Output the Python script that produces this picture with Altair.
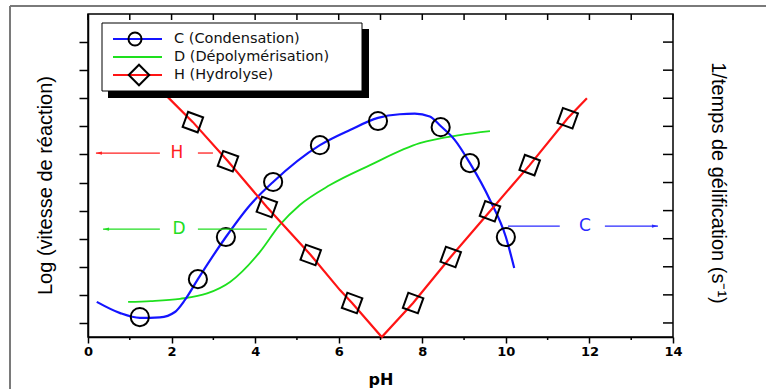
import altair as alt
import pandas as pd

# ---------------- data ----------------
# C (Condensation): smooth blue curve + circle markers
c_line_ph = [0.21, 0.77, 1.24, 1.72, 2.08, 2.32, 2.63, 3.30, 3.88, 4.43, 5.55, 6.27, 6.94, 7.46, 7.82, 8.18, 8.44, 8.78, 9.14, 9.62, 10.0, 10.2]
c_line_y = [1.25, 0.85, 0.68, 0.70, 0.89, 1.32, 2.06, 3.56, 4.70, 5.52, 6.83, 7.37, 7.80, 7.93, 7.95, 7.85, 7.51, 7.01, 6.19, 4.88, 3.56, 2.46]
c_mark_ph = [1.24, 2.63, 3.30, 4.43, 5.55, 6.94, 8.44, 9.14, 10.0]
c_mark_y = [0.71, 2.06, 3.56, 5.52, 6.83, 7.69, 7.47, 6.19, 3.56]

# D (Depolymerisation): green curve, no markers
d_line_ph = [0.96, 1.5, 2.2, 2.85, 3.40, 4.11, 4.59, 5.07, 5.79, 6.75, 7.94, 8.90, 9.62]
d_line_y = [1.25, 1.28, 1.36, 1.55, 1.96, 3.02, 3.99, 4.70, 5.41, 6.12, 6.90, 7.19, 7.33]

# H (Hydrolyse): red V-shaped line + diamond markers
h_line_ph = [1.5, 1.91, 2.51, 3.35, 4.28, 5.33, 6.03, 6.32, 7.03, 7.78, 8.68, 9.62, 10.57, 11.48, 11.94]
h_line_y = [9.25, 8.54, 7.65, 6.26, 4.63, 2.92, 1.67, 1.21, 0.0, 1.21, 2.85, 4.48, 6.12, 7.79, 8.50]
h_mark_ph = [2.51, 3.35, 4.28, 5.33, 6.32, 7.78, 8.68, 9.62, 10.57, 11.48]
h_mark_y = [7.65, 6.26, 4.63, 2.92, 1.21, 1.21, 2.85, 4.48, 6.12, 7.79]

# annotations (letter + arrow)
ann_text = ["H", "D", "C"]
ann_ph = [2.13, 2.18, 11.89]
ann_y = [6.55, 3.84, 3.95]
ann_color = ["#ff2020", "#22dd22", "#2a2aff"]
seg_x1 = [0.19, 2.63, 0.36, 2.63, 10.05, 12.37]
seg_x2 = [1.72, 2.99, 1.72, 4.28, 11.29, 13.64]
seg_y = [6.55, 6.55, 3.84, 3.84, 3.95, 3.95]
seg_color = ["#ff2020", "#ff2020", "#22dd22", "#22dd22", "#2a2aff", "#2a2aff"]
head_ph = [0.19, 0.36, 13.64]
head_y = [6.55, 3.84, 3.95]
head_dir = ["left", "left", "right"]
head_color = ["#ff2020", "#22dd22", "#2a2aff"]

x_ticks_major = [0, 2, 4, 6, 8, 10, 12, 14]
x_ticks_all = list(range(0, 15))
x_ticks_minor = [1, 3, 5, 7, 9, 11, 13]
y_ticks = [0.5, 1.5, 2.5, 3.5, 4.5, 5.5, 6.5, 7.5, 8.5, 9.5, 10.5]

legend_labels = ["C (Condensation)", "D (Dépolymérisation)", "H (Hydrolyse)"]
x_title = "pH"
y_title_left = "Log (vitesse de réaction)"
y_title_right = "1/temps de gélification (s⁻¹)"

# ---------------- chart ----------------
W, H = 585, 323
BLUE, GREEN, RED = "#1414ff", "#1ee01e", "#ff1414"

xs = alt.Scale(domain=[0, 14], nice=False, zero=False)
ys = alt.Scale(domain=[0, 11.5], nice=False, zero=False)
xaxis = alt.Axis(values=x_ticks_major, tickSize=6, tickColor="black", tickWidth=1.5,
                 domainColor="black", domainWidth=1.5, grid=False, labelFlush=False,
                 labelFont="DejaVu Sans", labelFontWeight="bold", labelFontSize=13,
                 labelColor="black", labelPadding=2,
                 title=x_title, titleFont="DejaVu Sans", titleFontWeight="bold",
                 titleFontSize=16, titleColor="black", titleY=42, titleBaseline="middle")
yaxis = alt.Axis(values=y_ticks, labels=False, tickSize=9, tickColor="black", tickWidth=1.5,
                 domainColor="black", domainWidth=1.5, grid=False,
                 title=y_title_left, titleFont="Liberation Sans", titleFontSize=20,
                 titleFontWeight="normal", titleColor="black", titleX=-43, titleY=171,
                 titleAngle=270, titleBaseline="middle")
X = alt.X("ph:Q", scale=xs, axis=xaxis)
Y = alt.Y("v:Q", scale=ys, axis=yaxis)

c_line = pd.DataFrame({"ph": c_line_ph, "v": c_line_y})
c_mark = pd.DataFrame({"ph": c_mark_ph, "v": c_mark_y})
d_line = pd.DataFrame({"ph": d_line_ph, "v": d_line_y})
h_line = pd.DataFrame({"ph": h_line_ph, "v": h_line_y})
h_mark = pd.DataFrame({"ph": h_mark_ph, "v": h_mark_y})
ann = pd.DataFrame({"ph": ann_ph, "v": ann_y, "t": ann_text, "c": ann_color})
segs = pd.DataFrame({"ph": seg_x1, "ph2": seg_x2, "v": seg_y, "c": seg_color})
heads = pd.DataFrame({"ph": head_ph, "v": head_y, "c": head_color,
                      "s": ["M0,0L2,-0.55L2,0.55Z" if d == "left" else "M0,0L-2,-0.55L-2,0.55Z" for d in head_dir]})
one = pd.DataFrame({"k": [0]})

layers = []
# outer grey frame of the figure (left and top edges)
layers.append(alt.Chart(one).mark_rule(color="#7a7a7a", strokeWidth=2).encode(
    x=alt.value(-78), y=alt.value(-8), y2=alt.value(H + 60)))
layers.append(alt.Chart(one).mark_rule(color="#7a7a7a", strokeWidth=2).encode(
    x=alt.value(-78), x2=alt.value(W + 100), y=alt.value(-8)))

layers.append(alt.Chart(d_line).mark_line(color=GREEN, strokeWidth=1.8, interpolate="monotone").encode(x=X, y=Y))
layers.append(alt.Chart(c_line).mark_line(color=BLUE, strokeWidth=2.2, interpolate="monotone").encode(x=X, y=Y))
layers.append(alt.Chart(h_line).mark_line(color=RED, strokeWidth=2.2).encode(x=X, y=Y))
layers.append(alt.Chart(c_mark).mark_point(shape="circle", size=330, filled=False, color="black",
                                            strokeWidth=2, opacity=1).encode(x=X, y=Y))
layers.append(alt.Chart(h_mark).mark_point(shape="square", size=256, angle=20, filled=False, color="black",
                                            strokeWidth=2, opacity=1).encode(x=X, y=Y))

# frame ticks (top inward, right inward, bottom minor)
top_t = pd.DataFrame({"ph": x_ticks_all})
layers.append(alt.Chart(top_t).mark_rule(color="black", strokeWidth=1.5).encode(
    x=X, y=alt.value(0), y2=alt.value(6)))
min_t = pd.DataFrame({"ph": x_ticks_minor})
layers.append(alt.Chart(min_t).mark_rule(color="black", strokeWidth=1.5).encode(
    x=X, y=alt.value(H), y2=alt.value(H + 3)))
right_t = pd.DataFrame({"v": y_ticks})
layers.append(alt.Chart(right_t).mark_rule(color="black", strokeWidth=1.5).encode(
    y=Y, x=alt.value(W - 10), x2=alt.value(W)))

# annotations
layers.append(alt.Chart(segs).mark_rule(strokeWidth=1.3).encode(
    x=X, x2="ph2:Q", y=Y, color=alt.Color("c:N", scale=None)))
layers.append(alt.Chart(heads).mark_point(size=36, filled=True, opacity=1).encode(
    x=X, y=Y, color=alt.Color("c:N", scale=None), shape=alt.Shape("s:N", scale=None)))
layers.append(alt.Chart(ann).mark_text(font="DejaVu Sans", fontSize=17, baseline="middle", align="center").encode(
    x=X, y=Y, text="t:N", color=alt.Color("c:N", scale=None)))

# legend (drawn box with shadow)
layers.append(alt.Chart(one).mark_rect(color="black").encode(
    x=alt.value(20), x2=alt.value(281), y=alt.value(15), y2=alt.value(84)))
layers.append(alt.Chart(one).mark_rect(fill="white", stroke="black", strokeWidth=1).encode(
    x=alt.value(14), x2=alt.value(274), y=alt.value(9), y2=alt.value(77)))
rows = [25, 43, 61]
line_cols = [BLUE, GREEN, RED]
for i, (lab, ry, lc) in enumerate(zip(legend_labels, rows, line_cols)):
    layers.append(alt.Chart(one).mark_rule(color=lc, strokeWidth=1.8).encode(
        x=alt.value(25), x2=alt.value(74), y=alt.value(ry)))
    if i == 0:
        layers.append(alt.Chart(one).mark_point(shape="circle", size=170, filled=False, color="black",
                                                strokeWidth=2, opacity=1).encode(x=alt.value(47), y=alt.value(ry)))
    if i == 2:
        layers.append(alt.Chart(one).mark_point(shape="diamond", size=420, filled=False, color="black",
                                                strokeWidth=2, opacity=1).encode(x=alt.value(51), y=alt.value(ry)))
    layers.append(alt.Chart(one).mark_text(font="DejaVu Sans", fontSize=14.5, align="left", baseline="middle",
                                           color="#111111").encode(
        x=alt.value(86), y=alt.value(ry), text=alt.value(lab)))

# right-side title
layers.append(alt.Chart(one).mark_text(font="Liberation Sans", fontSize=20, angle=90, align="center",
                                       baseline="middle", color="black").encode(
    x=alt.value(W + 45), y=alt.value(169), text=alt.value(y_title_right)))

chart = alt.layer(*layers).properties(
    width=W, height=H,
    autosize=alt.AutoSizeParams(type="none"),
    padding={"left": 88, "top": 14, "right": 93, "bottom": 52},
    background="white",
).configure_view(stroke="black", strokeWidth=1.5)

chart.save("out.html", embed_options={"renderer": "svg", "actions": False})
